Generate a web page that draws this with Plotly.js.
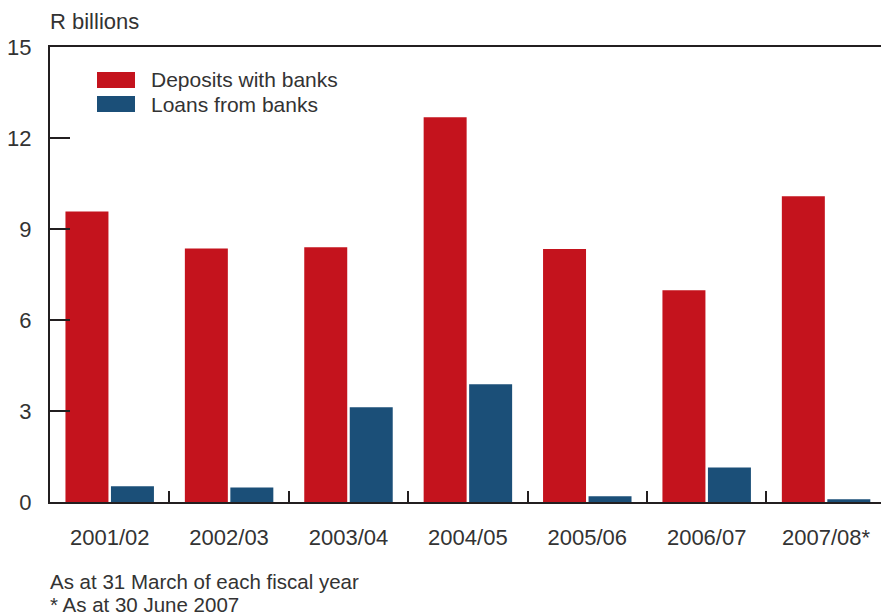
<!DOCTYPE html>
<html>
<head>
<meta charset="utf-8">
<script src="https://cdn.plot.ly/plotly-3.0.1.min.js"></script>
<style>html,body{margin:0;padding:0;background:#fff;}#chart{width:881px;height:615px;}</style>
</head>
<body>
<div id="chart"></div>
<script>
const categories = ["2001/02", "2002/03", "2003/04", "2004/05", "2005/06", "2006/07", "2007/08*"];
const depositsWithBanks = [9.58, 8.36, 8.40, 12.68, 8.34, 6.98, 10.08];
const loansFromBanks = [0.52, 0.48, 3.12, 3.88, 0.19, 1.14, 0.09];
const seriesNames = ["Deposits with banks", "Loans from banks"];
const seriesColors = ["#c4131d", "#1b4f78"];
const yTicks = [0, 3, 6, 9, 12, 15];
const unitLabel = "R billions";
const notes = ["As at 31 March of each fiscal year", "* As at 30 June 2007"];

const FONT = "Liberation Sans, Arial, sans-serif";
const TXT = "#333333";
const AX = "#231f20";

const traces = [
  {type: "bar", x: categories, y: depositsWithBanks, name: seriesNames[0],
   marker: {color: seriesColors[0], line: {width: 0}}, hoverinfo: "skip"},
  {type: "bar", x: categories, y: loansFromBanks, name: seriesNames[1],
   marker: {color: seriesColors[1], line: {width: 0}}, hoverinfo: "skip"}
];

const shapes = [];
const annotations = [];
// custom legend (swatches + labels)
const legY = [80, 104];
seriesNames.forEach((n, i) => {
  shapes.push({type: "rect", xref: "paper", yref: "paper",
    x0: (97 - 50) / 831, x1: (135 - 50) / 831,
    y0: (502 - (legY[i] + 8)) / 455, y1: (502 - (legY[i] - 8)) / 455,
    fillcolor: seriesColors[i], line: {width: 0}});
  annotations.push({xref: "paper", yref: "paper", x: (149 - 50) / 831, y: (502 - legY[i]) / 455,
    xanchor: "left", yanchor: "middle", showarrow: false, text: n,
    font: {family: FONT, size: 21, color: TXT}});
});
annotations.push({xref: "paper", yref: "paper", x: 0, y: (502 - 22) / 455, xanchor: "left", yanchor: "middle",
  showarrow: false, text: unitLabel, font: {family: FONT, size: 22, color: TXT}, xshift: -2});
annotations.push({xref: "paper", yref: "paper", x: 0, y: (502 - 581) / 455, xanchor: "left", yanchor: "middle",
  showarrow: false, text: notes[0], font: {family: FONT, size: 20.5, color: TXT}, xshift: -2});
annotations.push({xref: "paper", yref: "paper", x: 0, y: (502 - 604) / 455, xanchor: "left", yanchor: "middle",
  showarrow: false, text: notes[1], font: {family: FONT, size: 20.5, color: TXT}, xshift: -2});

const layout = {
  width: 881, height: 615,
  margin: {l: 50, r: 0, t: 47, b: 113, pad: 0},
  paper_bgcolor: "#ffffff", plot_bgcolor: "#ffffff",
  showlegend: false,
  barmode: "group", bargap: 0.238, bargroupgap: 0.055,
  font: {family: FONT, color: TXT, size: 22},
  xaxis: {type: "category", range: [-0.5, 6.46], showgrid: false, zeroline: false,
    showline: true, linecolor: AX, linewidth: 2, mirror: true,
    ticks: "inside", tickson: "boundaries", ticklen: 11, tickwidth: 2, tickcolor: AX,
    ticklabelstandoff: 15, tickfont: {family: FONT, size: 22, color: TXT}, fixedrange: true},
  yaxis: {range: [0, 15], tickvals: yTicks, ticktext: yTicks.map(String), showgrid: false, zeroline: false,
    showline: true, linecolor: AX, linewidth: 2,
    ticks: "inside", ticklen: 20, tickwidth: 2, tickcolor: AX,
    ticklabelstandoff: 12, tickfont: {family: FONT, size: 22, color: TXT}, fixedrange: true},
  shapes: shapes,
  annotations: annotations
};

Plotly.newPlot("chart", traces, layout, {staticPlot: true, displayModeBar: false});
</script>
</body>
</html>
